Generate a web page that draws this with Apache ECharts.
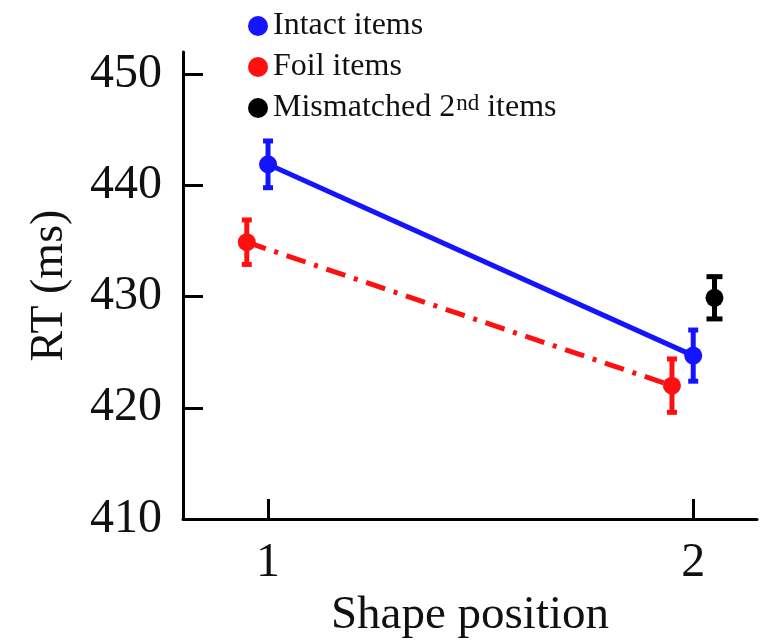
<!DOCTYPE html>
<html>
<head>
<meta charset="utf-8">
<script src="https://cdn.jsdelivr.net/npm/echarts@6.0.0/dist/echarts.min.js"></script>
<style>
  html, body { margin: 0; padding: 0; background: #fff; }
  #chart { width: 765px; height: 644px; }
</style>
</head>
<body>
<div id="chart"></div>
<script>
// Data (mean RT and error bar half-width, ms)
const positionTicks = [1, 2];
const rtTicks = [410, 420, 430, 440, 450];

const intactX = [1, 2];
const intactRT = [441.9, 424.7];
const intactErr = [2.1, 2.3];

const foilX = [0.95, 1.95];
const foilRT = [434.9, 422.0];
const foilErr = [2.0, 2.4];

const mismatchedX = [2.05];
const mismatchedRT = [429.9];
const mismatchedErr = [1.9];

const FONT = '"Liberation Serif", "Times New Roman", serif';
const BLUE = '#1414ff';
const RED = '#ff1010';
const BLACK = '#000000';

function points(xs, ys) {
  return xs.map((x, i) => [x, ys[i]]);
}
function errRows(xs, ys, es) {
  return xs.map((x, i) => [x, ys[i], ys[i] - es[i], ys[i] + es[i]]);
}

// error bars drawn through the chart's own coordinate system
function errorBars(name, color, rows, capW) {
  return {
    name: name,
    type: 'custom',
    data: rows,
    z: 3,
    silent: true,
    renderItem: function (params, api) {
      const x = api.value(0);
      const top = api.coord([x, api.value(3)]);
      const bot = api.coord([x, api.value(2)]);
      const h = capW / 2;
      const style = { stroke: color, lineWidth: 5 };
      return {
        type: 'group',
        children: [
          { type: 'line', shape: { x1: top[0], y1: top[1], x2: bot[0], y2: bot[1] }, style: style },
          { type: 'line', shape: { x1: top[0] - h, y1: top[1], x2: top[0] + h, y2: top[1] }, style: style },
          { type: 'line', shape: { x1: bot[0] - h, y1: bot[1], x2: bot[0] + h, y2: bot[1] }, style: style }
        ]
      };
    },
    encode: { x: 0, y: 1 }
  };
}

const chart = echarts.init(document.getElementById('chart'));

const option = {
  animation: false,
  backgroundColor: '#ffffff',
  textStyle: { fontFamily: FONT },
  grid: { left: 183, top: 52, right: 8, bottom: 122, containLabel: false },
  legend: {
    orient: 'vertical',
    left: 243,
    top: 5,
    icon: 'circle',
    itemWidth: 20,
    itemHeight: 20,
    itemGap: 9,
    data: ['Intact items', 'Foil items', 'Mismatched 2nd items'],
    formatter: function (name) {
      return name.replace('2nd', '2{sup|nd}');
    },
    textStyle: {
      fontFamily: FONT,
      fontSize: 32,
      color: '#111',
      lineHeight: 32,
      rich: {
        sup: { fontFamily: FONT, fontSize: 23, color: '#111', verticalAlign: 'top', lineHeight: 32, padding: [0, 0, 14, 1] }
      }
    }
  },
  xAxis: {
    type: 'value',
    min: 0.8,
    max: 2.15,
    name: 'Shape position',
    nameLocation: 'middle',
    nameGap: 64,
    nameTextStyle: { fontFamily: FONT, fontSize: 47, color: '#111' },
    splitLine: { show: false },
    axisLine: { lineStyle: { color: BLACK, width: 3 } },
    axisTick: { inside: true, length: 20, lineStyle: { color: BLACK, width: 3 }, customValues: positionTicks },
    axisLabel: { margin: 20, fontFamily: FONT, fontSize: 48, color: '#111', customValues: positionTicks }
  },
  yAxis: {
    type: 'value',
    min: 410,
    max: 452,
    name: 'RT (ms)',
    nameLocation: 'middle',
    nameGap: 110,
    nameRotate: 90,
    nameTextStyle: { fontFamily: FONT, fontSize: 46, color: '#111' },
    splitLine: { show: false },
    axisLine: { show: true, lineStyle: { color: BLACK, width: 3 } },
    axisTick: { show: true, inside: true, length: 20, lineStyle: { color: BLACK, width: 3 }, customValues: rtTicks },
    axisLabel: { margin: 21, fontFamily: FONT, fontSize: 48, color: '#111', customValues: rtTicks }
  },
  series: [
    {
      name: 'Intact items',
      type: 'line',
      data: points(intactX, intactRT),
      color: BLUE,
      symbol: 'circle',
      symbolSize: 18,
      z: 4,
      lineStyle: { color: BLUE, width: 5 },
      itemStyle: { color: BLUE }
    },
    {
      name: 'Foil items',
      type: 'line',
      data: points(foilX, foilRT),
      color: RED,
      symbol: 'circle',
      symbolSize: 18,
      z: 4,
      lineStyle: { color: RED, width: 5, type: [20, 9, 4, 9] },
      itemStyle: { color: RED }
    },
    {
      name: 'Mismatched 2nd items',
      type: 'line',
      data: points(mismatchedX, mismatchedRT),
      color: BLACK,
      symbol: 'circle',
      symbolSize: 18,
      z: 4,
      itemStyle: { color: BLACK }
    },
    errorBars('Intact items', BLUE, errRows(intactX, intactRT, intactErr), 10),
    errorBars('Foil items', RED, errRows(foilX, foilRT, foilErr), 10),
    errorBars('Mismatched 2nd items', BLACK, errRows(mismatchedX, mismatchedRT, mismatchedErr), 16)
  ]
};

chart.setOption(option);
</script>
</body>
</html>
